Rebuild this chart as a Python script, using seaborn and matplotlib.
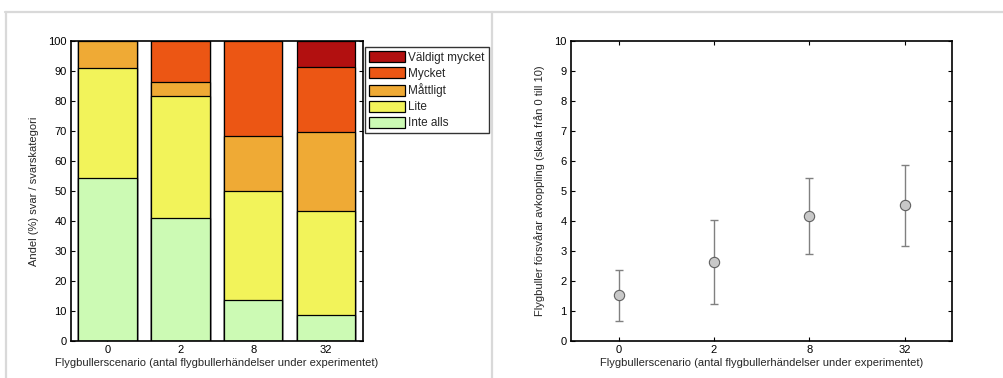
import numpy as np
import pandas as pd
import matplotlib
matplotlib.use("Agg")
import matplotlib.pyplot as plt
from matplotlib.lines import Line2D
import seaborn as sns

# Scenarios: number of aircraft noise events during the experiment
scenarios = ["0", "2", "8", "32"]

# Share (%) of answers per response category and scenario
inte_alls = [54.5, 40.9, 13.6, 8.7]
lite = [36.4, 40.9, 36.4, 34.8]
mattligt = [9.1, 4.5, 18.2, 26.1]
mycket = [0.0, 13.7, 31.8, 21.7]
valdigt_mycket = [0.0, 0.0, 0.0, 8.7]

categories = ["Inte alls", "Lite", "Måttligt", "Mycket", "Väldigt mycket"]
category_colors = ["#ccfab4", "#f2f35a", "#efaa35", "#ec5614", "#b21010"]

# Mean rating (0-10) and error bar half-widths per scenario
rating_mean = [1.52, 2.63, 4.16, 4.52]
rating_err = [0.85, 1.39, 1.26, 1.35]

sns.set_theme(style="white")
plt.rcParams["font.family"] = ["Liberation Sans", "DejaVu Sans"]
plt.rcParams["font.size"] = 8

fig = plt.figure(figsize=(10.04, 3.78), dpi=100)

# Light grey frame around the two panels
frame_kw = dict(color="#d9d9d9", lw=1.6, transform=fig.transFigure)
fig.add_artist(Line2D([5 / 1004, 1.0], [1 - 12 / 378] * 2, **frame_kw))
fig.add_artist(Line2D([5.5 / 1004] * 2, [0.0, 1 - 12 / 378], **frame_kw))
fig.add_artist(Line2D([492.5 / 1004] * 2, [0.0, 1 - 12 / 378], **frame_kw))

ax1 = fig.add_axes([71 / 1004, 37 / 378, 291.7 / 1004, 300 / 378])
ax2 = fig.add_axes([571 / 1004, 37 / 378, 381.3 / 1004, 300 / 378])

# Stacked bars: draw cumulative totals from the top category down
layers = [inte_alls, lite, mattligt, mycket, valdigt_mycket]
cum = np.cumsum(np.array(layers), axis=0)
for i in reversed(range(len(categories))):
    df = pd.DataFrame({"scenario": scenarios, "value": cum[i]})
    sns.barplot(data=df, x="scenario", y="value", order=scenarios,
                color=category_colors[i], saturation=1, width=0.8,
                edgecolor="black", linewidth=0.9, label=categories[i], ax=ax1)

ax1.set_xlim(-0.5, 3.5)
ax1.set_ylim(0, 100)
ax1.set_yticks(np.arange(0, 101, 10))
ax1.set_xlabel("Flygbullerscenario (antal flygbullerhändelser under experimentet)",
               fontsize=8, labelpad=2)
ax1.set_ylabel("Andel (%) svar / svarskategori", fontsize=8, labelpad=7)
leg = ax1.legend(loc="upper left", bbox_to_anchor=(1.008, 0.98), frameon=True,
                 fancybox=False, edgecolor="black", fontsize=8.5,
                 handlelength=3.0, handleheight=1.05, handletextpad=0.3,
                 labelspacing=0.3, borderpad=0.35, borderaxespad=0.0)
leg.get_frame().set_linewidth(1.0)

# Mean ratings with error bars
ax2.errorbar(np.arange(len(scenarios)), rating_mean, yerr=rating_err,
             fmt="none", ecolor="#808080", elinewidth=1.0, capsize=2.8,
             capthick=1.0, zorder=2)
sns.scatterplot(x=scenarios, y=rating_mean, ax=ax2, s=55, color="#c8c8c8",
                edgecolor="#606060", linewidth=0.8, zorder=3)
ax2.set_xlim(-0.5, 3.5)
ax2.set_ylim(0, 10)
ax2.set_yticks(np.arange(0, 11, 1))
ax2.set_xticks(range(len(scenarios)))
ax2.set_xticklabels(scenarios)
ax2.set_xlabel("Flygbullerscenario (antal flygbullerhändelser under experimentet)",
               fontsize=8, labelpad=2)
ax2.set_ylabel("Flygbuller försvårar avkoppling (skala från 0 till 10)",
               fontsize=8, labelpad=7)

for ax in (ax1, ax2):
    for sp in ax.spines.values():
        sp.set_visible(True)
        sp.set_color("black")
        sp.set_linewidth(1.2)
    ax.tick_params(direction="in", length=3, width=0.8, colors="black",
                   labelsize=8, top=True, right=True, bottom=True, left=True,
                   pad=3)
    ax.set_facecolor("white")

fig.savefig("out.png", dpi=100, facecolor="white")
